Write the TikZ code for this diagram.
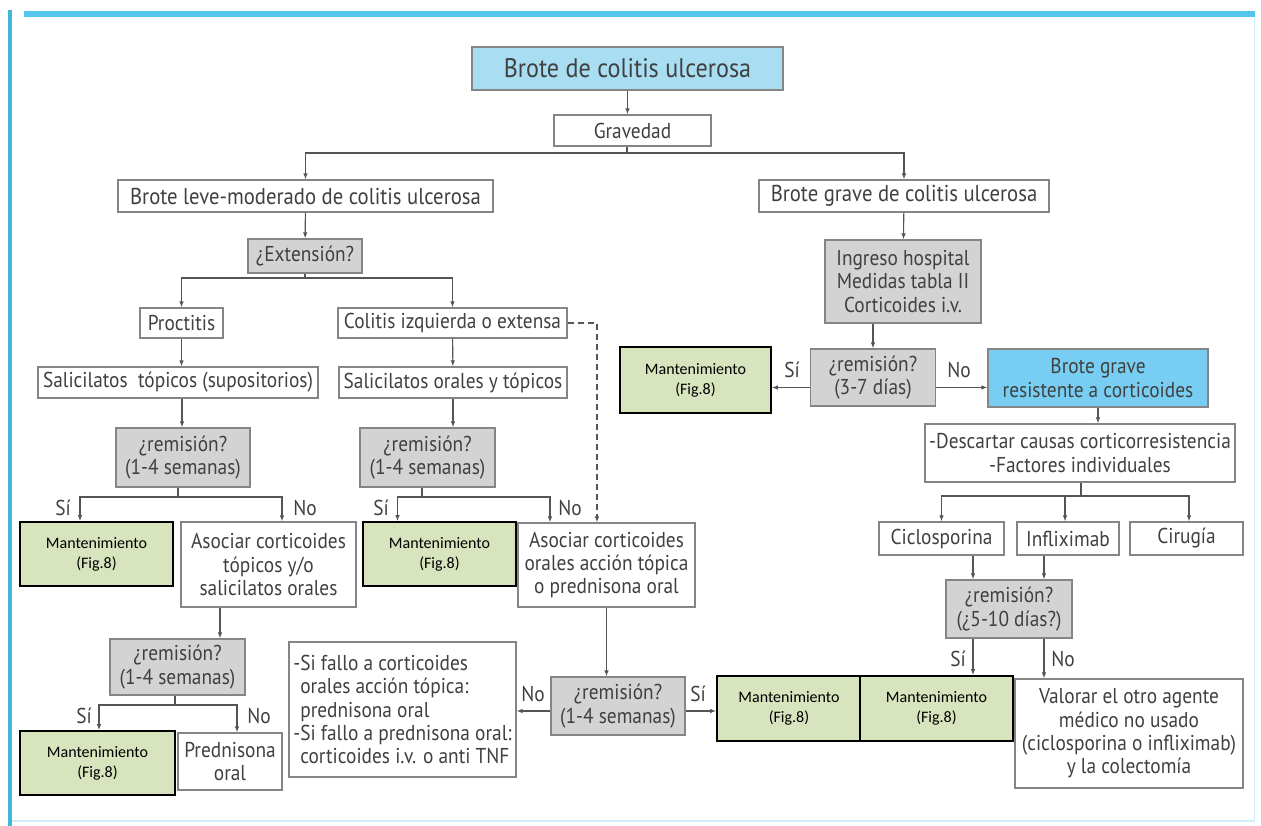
\documentclass[tikz,border=0pt]{standalone}
\usepackage{fontspec}
\setmainfont{PT Sans}[FakeStretch=0.9]
\newfontfamily\carl{Carlito}
\usetikzlibrary{arrows.meta}

\definecolor{framecyan}{HTML}{56C5EE}
\definecolor{leftcyan}{HTML}{3FB7D9}
\definecolor{palecyan}{HTML}{CFEFF8}
\definecolor{txtgray}{HTML}{404040}
\definecolor{edgegray}{HTML}{858585}
\definecolor{fillgray}{HTML}{D3D3D3}
\definecolor{mantgreen}{HTML}{D7E4BD}
\definecolor{topblue}{HTML}{A8DDF2}
\definecolor{resblue}{HTML}{78CEF2}
\definecolor{linegray}{HTML}{555555}

\newcommand{\bodysz}{\fontsize{21.5}{23.3}\selectfont}
\newcommand{\headsz}{\fontsize{23}{26}\selectfont}
\newcommand{\titlesz}{\fontsize{26.8}{30}\selectfont}

\tikzset{
  wbox/.style={draw=edgegray, fill=white, line width=1.2pt, align=center, inner sep=0pt,
    text=txtgray, font=\bodysz},
  gbox/.style={wbox, fill=fillgray},
  bbox/.style={wbox, fill=topblue},
  mbox/.style={draw=black, line width=1.6pt, fill=mantgreen, align=center, inner sep=0pt,
    text=black, font=\carl\fontsize{16}{20}\selectfont},
  lbl/.style={text=txtgray, font=\bodysz, inner sep=0pt},
  link/.style={draw=linegray, line width=1.1pt},
  arr/.style={link, -{Latex[length=6pt,width=4.5pt]}},
}

\begin{document}
\begin{tikzpicture}[x=1pt, y=-1pt]
\useasboundingbox (0,0) rectangle (1261,826);
\fill[white] (0,0) rectangle (1261,826);

% page frame
\fill[framecyan] (24,11) rectangle (1255,17);
\fill[leftcyan] (8,10) rectangle (11.5,826);
\draw[palecyan, line width=1.5pt] (11.5,821) -- (1255,821);
\draw[palecyan, line width=1pt] (1254,17) -- (1254,821);

% ---------- top ----------
\node[bbox, minimum width=311, minimum height=43, font=\titlesz] (top) at (627.5,68.5) {Brote de colitis ulcerosa};
\node[wbox, minimum width=157, minimum height=31] (grav) at (632.5,130.5) {Gravedad};
\node[wbox, minimum width=375, minimum height=32, font=\headsz] (leve) at (305.5,196) {Brote leve-moderado de colitis ulcerosa};
\node[wbox, minimum width=290, minimum height=32, font=\headsz] (grave) at (904,196) {Brote grave de colitis ulcerosa};

\draw[arr] (top.south) -- (top.south |- grav.north);
\coordinate (jg) at (627,153);
\draw[link] (grav.south -| jg) -- (jg);
\draw[arr] (jg) -| (leve);
\draw[arr] (jg) -| (grave);

% ---------- mild / moderate branch ----------
\node[gbox, minimum width=114, minimum height=34] (ext) at (305,256) {¿Extensión?};
\draw[arr] (leve) -- (ext);

\node[wbox, minimum width=83, minimum height=30] (proc) at (181.5,323) {Proctitis};
\node[wbox, minimum width=229, minimum height=30] (coliz) at (452.5,323) {Colitis izquierda o extensa};
\coordinate (je) at (305,278);
\draw[link] (ext) -- (je);
\draw[arr] (je) -| (proc);
\draw[arr] (je) -| (coliz);

\node[wbox, minimum width=280, minimum height=31] (salt) at (178,382.5) {Salicilatos \ tópicos (supositorios)};
\node[wbox, minimum width=228, minimum height=31] (salo) at (453,382.5) {Salicilatos orales y tópicos};
\draw[arr] (proc.south) -- (proc.south |- salt.north);
\draw[arr] (coliz) -- (salo);

\node[gbox, minimum width=134, minimum height=59] (rema) at (183,457.5) {¿remisión?\\(1-4 semanas)};
\node[gbox, minimum width=135, minimum height=59] (remb) at (427.5,457.5) {¿remisión?\\(1-4 semanas)};
\draw[arr] ([xshift=4]salt.south) -- ([xshift=4]salt.south |- rema.north);
\draw[arr] (salo.south) -- (salo.south |- remb.north);

\node[mbox, minimum width=153, minimum height=64] (manta) at (96.5,554) {Mantenimiento\\(Fig.8)};
\node[wbox, minimum width=175, minimum height=85] (asoca) at (268.5,564.5) {Asociar corticoides\\tópicos y/o\\salicilatos orales};
\node[mbox, minimum width=153, minimum height=64] (mantb) at (439.5,554) {Mantenimiento\\(Fig.8)};
\node[wbox, minimum width=177, minimum height=84] (asocb) at (606.5,565) {Asociar corticoides\\orales acción tópica\\o prednisona oral};

% split under first remission
\coordinate (sa) at (178,497);
\draw[link] ([xshift=-5]rema.south) -- (sa);
\draw[arr] (sa) -| ([xshift=-16.5]manta.north);
\draw[arr] (sa) -| ([xshift=13.5]asoca.north);
\node[lbl] at (63,508) {Sí};
\node[lbl] at (305,508) {No};

% split under second remission
\coordinate (sb) at (422,497);
\draw[link] ([xshift=-5.5]remb.south) -- (sb);
\draw[arr] (sb) -| ([xshift=-42]mantb.north);
\draw[arr] (sb) -| ([xshift=-56.5]asocb.north);
\node[lbl] at (381,508) {Sí};
\node[lbl] at (570,508) {No};

% dashed shortcut
\draw[arr, dash pattern=on 6pt off 4pt] (coliz.east) -| ([xshift=-9.5]asocb.north);

% lower left
\node[gbox, minimum width=135, minimum height=56] (remc) at (177.5,667) {¿remisión?\\(1-4 semanas)};
\draw[arr] ([xshift=-48.5]asoca.south) -- ([xshift=-48.5]asoca.south |- remc.north);

\node[mbox, minimum width=155, minimum height=64] (mantc) at (97.5,763) {Mantenimiento\\(Fig.8)};
\node[wbox, minimum width=104, minimum height=57] (pred) at (230,761.5) {Prednisona\\oral};
\coordinate (sc) at (175,705);
\draw[link] ([xshift=-2.5]remc.south) -- (sc);
\draw[arr] (sc) -| ([xshift=1.5]mantc.north);
\draw[arr] (sc) -| ([xshift=7]pred.north);
\node[lbl] at (84,716) {Sí};
\node[lbl] at (259,716) {No};

\node[wbox, minimum width=227, minimum height=135, align=left, inner xsep=4pt] (fallo) at (402.5,709.5)
  {-Si fallo a corticoides\\\phantom{-}orales acción tópica:\\\phantom{-}prednisona oral\\-Si fallo a prednisona oral:\\\phantom{-}corticoides i.v. o anti TNF};

% lower centre
\node[gbox, minimum width=134, minimum height=58] (remd) at (618,706) {¿remisión?\\(1-4 semanas)};
\draw[arr] (asocb.south) -- (asocb.south |- remd.north);
\node[mbox, minimum width=144, minimum height=65] (mantd) at (789,708.5) {Mantenimiento\\(Fig.8)};
\draw[arr] ([yshift=-5]remd.west) -- ([yshift=-5]remd.west -| fallo.east);
\draw[arr] ([yshift=-5]remd.east) -- ([yshift=-5]remd.east -| mantd.west);
\node[lbl] at (533,694) {No};
\node[lbl] at (698,694) {Sí};

% ---------- severe branch ----------
\node[gbox, minimum width=156, minimum height=83] (ingr) at (903,281.5) {Ingreso hospital\\Medidas tabla II\\Corticoides i.v.};
\draw[arr] (grave) -- (ingr);

\node[gbox, minimum width=125, minimum height=57] (reme) at (873,377.5) {¿remisión?\\(3-7 días)};
\draw[arr] (ingr.south -| reme) -- (reme);

\node[mbox, minimum width=151, minimum height=66] (mante) at (695.5,380) {Mantenimiento\\(Fig.8)};
\node[bbox, fill=resblue, minimum width=220, minimum height=58] (resis) at (1098,378) {Brote grave\\resistente a corticoides};
\draw[arr] ([yshift=-10]reme.west) -- ([yshift=-10]reme.west -| mante.east);
\draw[arr] ([yshift=-10]reme.east) -- ([yshift=-10]reme.east -| resis.west);
\node[lbl] at (792,370) {Sí};
\node[lbl] at (959,370) {No};

\node[wbox, minimum width=310, minimum height=58] (desc) at (1080,453) {-Descartar causas corticorresistencia\\-Factores individuales};
\draw[arr] (resis.south) -- (resis.south |- desc.north);

\node[wbox, minimum width=125, minimum height=33] (cyc) at (941.5,538.5) {Ciclosporina};
\node[wbox, minimum width=102, minimum height=33] (ifx) at (1068,538.5) {Infliximab};
\node[wbox, minimum width=113, minimum height=33] (cir) at (1186.5,538.5) {Cirugía};
\coordinate (sd) at (1081,496);
\draw[link] (desc.south -| sd) -- (sd);
\draw[arr] (sd) -| (cyc);
\draw[arr] (sd) -| ([xshift=-3]ifx.north);
\draw[arr] (sd) -| ([xshift=2.5]cir.north);

\node[gbox, minimum width=126, minimum height=58] (remf) at (1009,609) {¿remisión?\\(¿5-10 días?)};
\draw[arr] ([xshift=31.5]cyc.south) -- ([xshift=31.5]cyc.south |- remf.north);
\draw[arr] ([xshift=-24]ifx.south) -- ([xshift=-24]ifx.south |- remf.north);

\node[mbox, minimum width=153, minimum height=65] (mantf) at (936.5,708.5) {Mantenimiento\\(Fig.8)};
\node[wbox, minimum width=228, minimum height=109] (valo) at (1129,733.5) {Valorar el otro agente\\médico no usado\\(ciclosporina o infliximab)\\y la colectomía};
\draw[arr] ([xshift=-36]remf.south) -- ([xshift=-36]remf.south |- mantf.north);
\draw[arr] ([xshift=35]remf.south) -- ([xshift=35]remf.south |- valo.north);
\node[lbl] at (958,659) {Sí};
\node[lbl] at (1063,659) {No};
\end{tikzpicture}
\end{document}
